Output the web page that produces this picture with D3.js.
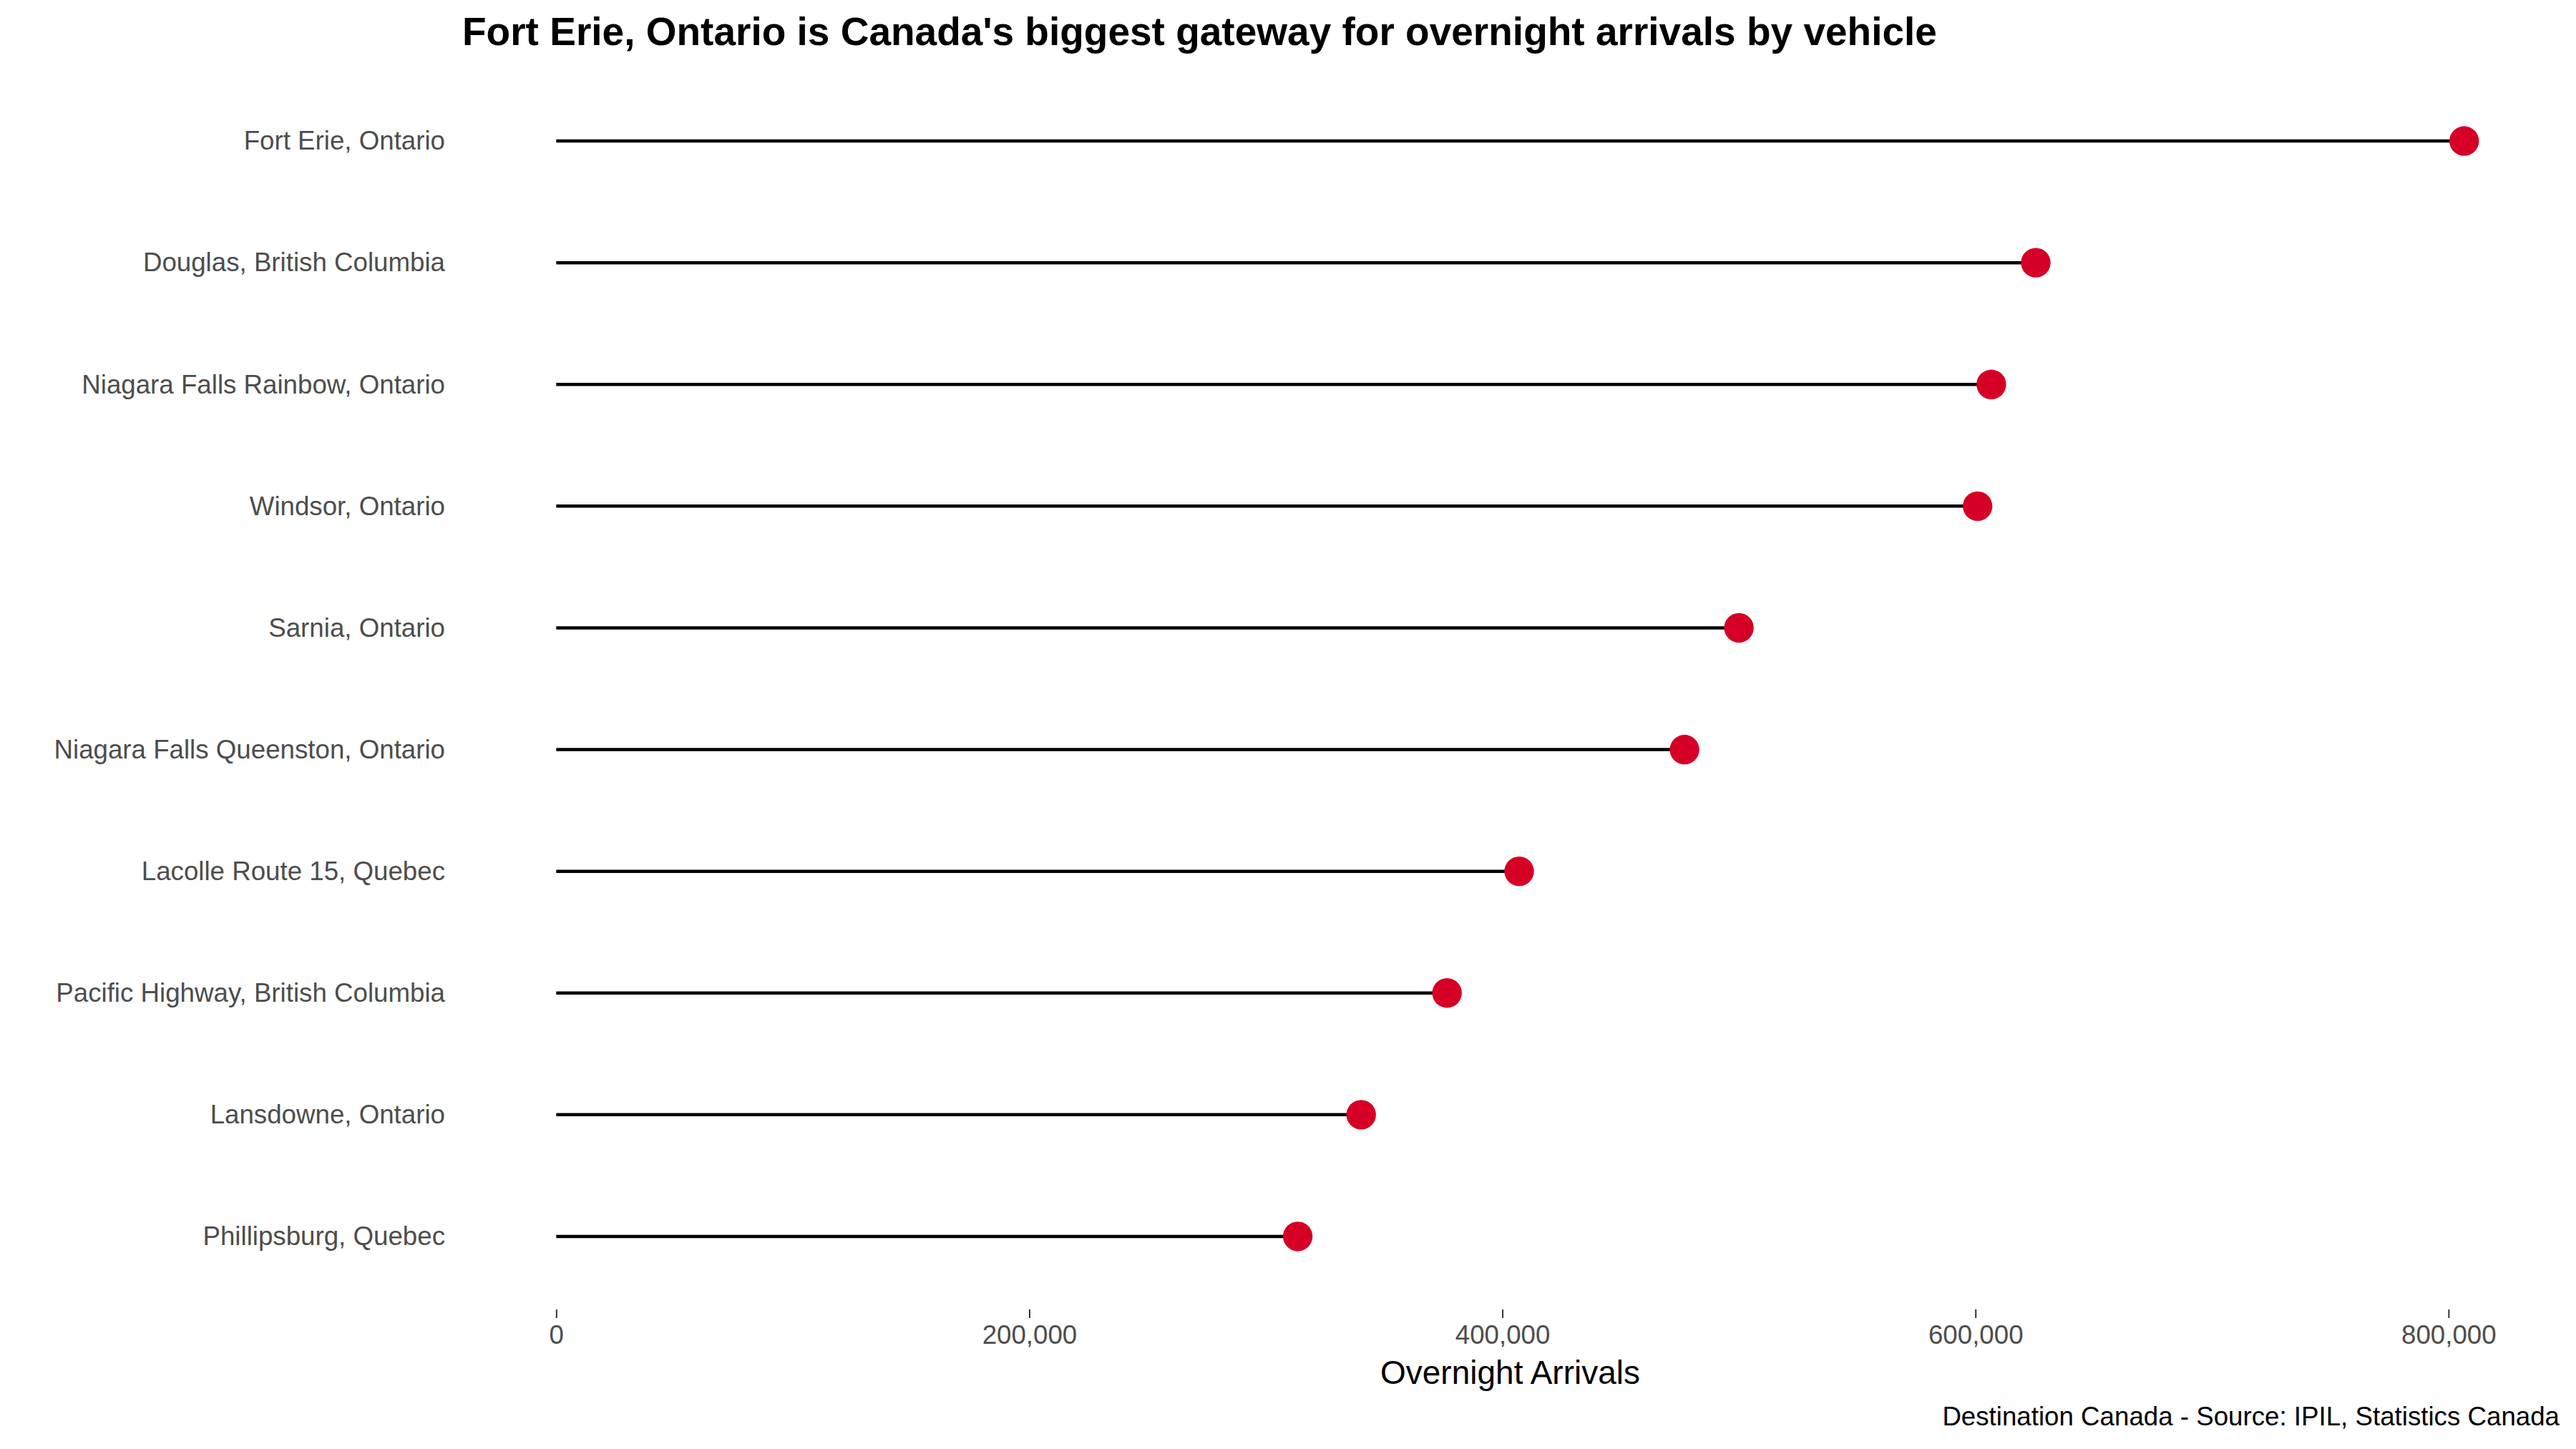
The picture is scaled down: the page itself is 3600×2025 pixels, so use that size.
<!DOCTYPE html>
<html>
<head>
<meta charset="utf-8">
<script src="https://cdn.jsdelivr.net/npm/d3@7"></script>
<style>
  html, body { margin: 0; padding: 0; background: #fff; }
  svg { display: block; }
  text { font-family: "Liberation Sans", Arial, Helvetica, sans-serif; }
</style>
</head>
<body>
<svg id="chart" width="3600" height="2025"></svg>
<script>
const crossings = [
  "Fort Erie, Ontario",
  "Douglas, British Columbia",
  "Niagara Falls Rainbow, Ontario",
  "Windsor, Ontario",
  "Sarnia, Ontario",
  "Niagara Falls Queenston, Ontario",
  "Lacolle Route 15, Quebec",
  "Pacific Highway, British Columbia",
  "Lansdowne, Ontario",
  "Phillipsburg, Quebec"
];
const arrivals = [806600, 625500, 606700, 600900, 500000, 477000, 407100, 376600, 340300, 313500];
const xTicks = [0, 200000, 400000, 600000, 800000];

const titleText = "Fort Erie, Ontario is Canada's biggest gateway for overnight arrivals by vehicle";
const xTitle = "Overnight Arrivals";
const captionText = "Destination Canada - Source: IPIL, Statistics Canada";

const svg = d3.select("#chart");
const panel = { left: 644, right: 3577, top: 95, bottom: 1830 };

const maxV = d3.max(arrivals);
const pad = maxV * 0.05;
const x = d3.scaleLinear().domain([0 - pad, maxV + pad]).range([panel.left, panel.right]);

const step = (panel.bottom - panel.top) / (crossings.length - 1 + 1.2);
const y = d3.scalePoint().domain(crossings)
  .range([panel.top + 0.6 * step, panel.bottom - 0.6 * step]);

const data = crossings.map((c, i) => ({ name: c, value: arrivals[i] }));

// stems
svg.append("g").selectAll("line").data(data).join("line")
  .attr("x1", x(0)).attr("x2", d => x(d.value))
  .attr("y1", d => y(d.name)).attr("y2", d => y(d.name))
  .attr("stroke", "#000").attr("stroke-width", 4.5);

// dots
svg.append("g").selectAll("circle").data(data).join("circle")
  .attr("cx", d => x(d.value)).attr("cy", d => y(d.name))
  .attr("r", 20.7).attr("fill", "#D60026");

// y axis labels
const yAxis = d3.axisLeft(y).tickSize(0).tickPadding(22);
const gy = svg.append("g").attr("transform", `translate(${panel.left},0)`).call(yAxis);
gy.select(".domain").remove();
gy.selectAll("text").attr("font-size", 36.7).attr("fill", "#4D4D4D")
  .attr("font-family", "'Liberation Sans', Arial, sans-serif");

// x axis
const xAxis = d3.axisBottom(x).tickValues(xTicks).tickSize(12).tickPadding(10)
  .tickFormat(d3.format(","));
const gx = svg.append("g").attr("transform", `translate(0,${panel.bottom})`).call(xAxis);
gx.select(".domain").remove();
gx.selectAll(".tick line").attr("stroke", "#333333").attr("stroke-width", 2);
gx.selectAll("text").attr("font-size", 36.7).attr("fill", "#4D4D4D")
  .attr("font-family", "'Liberation Sans', Arial, sans-serif");

// axis title
svg.append("text")
  .attr("x", (panel.left + panel.right) / 2).attr("y", 1934)
  .attr("text-anchor", "middle").attr("font-size", 46).attr("fill", "#000")
  .text(xTitle);

// title
svg.append("text")
  .attr("x", panel.left + 2).attr("y", 63)
  .attr("font-size", 55).attr("font-weight", "bold").attr("fill", "#000")
  .text(titleText);

// caption
svg.append("text")
  .attr("x", panel.right).attr("y", 1992)
  .attr("text-anchor", "end").attr("font-size", 36.7).attr("fill", "#000")
  .text(captionText);
</script>
</body>
</html>
